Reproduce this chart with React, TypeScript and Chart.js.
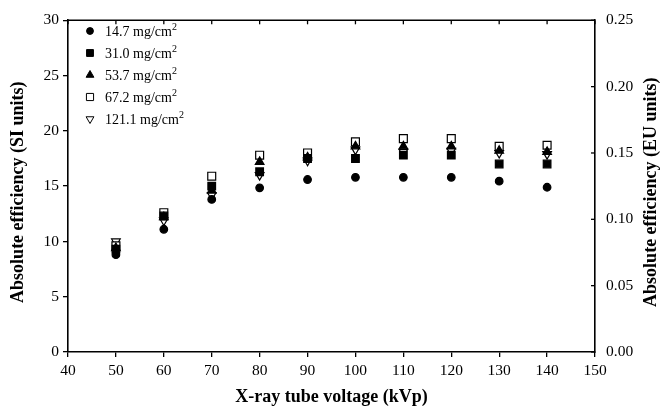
import React, { useEffect, useRef } from "react";
import { Chart, registerables } from "chart.js";
import { drawPoint } from "chart.js/helpers";

Chart.register(...registerables);

const voltages = [50, 60, 70, 80, 90, 100, 110, 120, 130, 140];
const eff14_7 = [8.8, 11.1, 13.8, 14.85, 15.6, 15.8, 15.8, 15.8, 15.45, 14.9];
const eff31_0 = [9.3, 12.3, 15.0, 16.3, 17.5, 17.5, 17.8, 17.8, 17.0, 17.0];
const eff53_7 = [9.4, 12.2, 14.6, 17.2, 17.6, 18.6, 18.6, 18.6, 18.2, 18.1];
const eff67_2 = [9.6, 12.6, 15.9, 17.8, 18.0, 19.0, 19.3, 19.3, 18.6, 18.7];
const eff121_1 = [10.0, 11.9, 14.2, 16.0, 17.3, 18.3, 18.1, 18.2, 18.0, 17.9];
const seriesLabels = ["14.7 mg/cm", "31.0 mg/cm", "53.7 mg/cm", "67.2 mg/cm", "121.1 mg/cm"];
const labelSup = "2";

const SERIF = "'Liberation Serif', 'Times New Roman', serif";

const styles = [
  { pointStyle: "circle", radius: 3.8, rotation: 0, fill: "#000" },
  { pointStyle: "rect", radius: 5.4, rotation: 0, fill: "#000" },
  { pointStyle: "triangle", radius: 5.0, rotation: 0, fill: "#000" },
  { pointStyle: "rect", radius: 5.6, rotation: 0, fill: "#fff" },
  { pointStyle: "triangle", radius: 5.0, rotation: 180, fill: "#fff" },
];

const decorPlugin = {
  id: "decor",
  afterDraw(chart: any) {
    const ctx = chart.ctx;
    const area = chart.chartArea;
    const xs = chart.scales.x;
    const y2 = chart.scales.y2;
    ctx.save();
    ctx.strokeStyle = "#000";
    ctx.lineWidth = 1.6;
    ctx.beginPath();
    ctx.moveTo(area.left, area.top);
    ctx.lineTo(area.right, area.top);
    ctx.stroke();
    ctx.lineWidth = 1.3;
    xs.ticks.forEach((t: any) => {
      const px = xs.getPixelForValue(t.value);
      ctx.beginPath();
      ctx.moveTo(px, area.top);
      ctx.lineTo(px, area.top + 4);
      ctx.stroke();
    });
    y2.ticks.forEach((t: any) => {
      const py = y2.getPixelForValue(t.value);
      ctx.beginPath();
      ctx.moveTo(area.right, py);
      ctx.lineTo(area.right - 4, py);
      ctx.stroke();
    });

    ctx.fillStyle = "#000";
    ctx.font = "bold 18px " + SERIF;
    ctx.textAlign = "center";
    ctx.textBaseline = "middle";
    ctx.fillText("X-ray tube voltage (kVp)", (area.left + area.right) / 2, 397);
    const midY = (area.top + area.bottom) / 2 + 6;
    ctx.save();
    ctx.translate(18, midY);
    ctx.rotate(-Math.PI / 2);
    ctx.fillText("Absolute efficiency (SI units)", 0, 0);
    ctx.restore();
    ctx.save();
    ctx.translate(651, midY);
    ctx.rotate(-Math.PI / 2);
    ctx.fillText("Absolute efficiency (EU units)", 0, 0);
    ctx.restore();

    const lx = 90;
    const tx = 105;
    const y0 = 31;
    const dy = 22;
    seriesLabels.forEach((lab, i) => {
      const st = styles[i];
      const yy = y0 + i * dy;
      ctx.fillStyle = st.fill;
      ctx.strokeStyle = "#000";
      ctx.lineWidth = 1;
      drawPoint(ctx, { pointStyle: st.pointStyle, radius: st.radius * 0.9, rotation: st.rotation, borderWidth: 1 } as any, lx, yy);
      ctx.fillStyle = "#000";
      ctx.textAlign = "left";
      ctx.textBaseline = "middle";
      ctx.font = "14px " + SERIF;
      ctx.fillText(lab, tx, yy + 1);
      const w = ctx.measureText(lab).width;
      ctx.font = "10px " + SERIF;
      ctx.fillText(labelSup, tx + w, yy - 4);
    });
    ctx.restore();
  },
};

export default function App() {
  const ref = useRef<HTMLCanvasElement | null>(null);
  useEffect(() => {
    document.body.style.margin = "0";
    const canvas = ref.current;
    if (!canvas) return;
    const series = [eff14_7, eff31_0, eff53_7, eff67_2, eff121_1];
    const datasets = series.map((vals, i) => ({
      label: seriesLabels[i] + "²",
      data: voltages.map((v, j) => ({ x: v, y: vals[j] })),
      pointStyle: styles[i].pointStyle as any,
      pointRadius: styles[i].radius,
      pointRotation: styles[i].rotation,
      backgroundColor: styles[i].fill,
      borderColor: "#000",
      borderWidth: 1.2,
      showLine: false,
      yAxisID: "y",
    }));
    const tickFont = { family: SERIF, size: 15.5 };
    const chart = new Chart(canvas, {
      type: "scatter",
      data: { datasets },
      plugins: [decorPlugin],
      options: {
        animation: false,
        responsive: false,
        layout: { padding: { top: 15, left: 0, right: 0, bottom: 0 } },
        plugins: { legend: { display: false }, tooltip: { enabled: false } },
        scales: {
          x: {
            type: "linear",
            min: 40,
            max: 150,
            ticks: { stepSize: 10, color: "#000", font: tickFont, padding: 5, maxRotation: 0 },
            grid: { drawOnChartArea: false, drawTicks: true, tickLength: 5, color: "#000", lineWidth: 1.3 },
            border: { display: true, color: "#000", width: 1.6 },
            afterFit: (s: any) => { s.height = 55; },
          },
          y: {
            type: "linear",
            position: "left",
            min: 0,
            max: 30,
            ticks: { stepSize: 5, color: "#000", font: tickFont, padding: 4 },
            grid: { drawOnChartArea: false, drawTicks: true, tickLength: 5, color: "#000", lineWidth: 1.3 },
            border: { display: true, color: "#000", width: 1.6 },
            afterFit: (s: any) => { s.width = 68; },
          },
          y2: {
            type: "linear",
            position: "right",
            min: 0,
            max: 0.25,
            ticks: {
              stepSize: 0.05,
              color: "#000",
              font: tickFont,
              padding: 11,
              callback: (v: any) => Number(v).toFixed(2),
            },
            grid: { drawOnChartArea: false, drawTicks: false, color: "#000" },
            border: { display: true, color: "#000", width: 1.6 },
            afterFit: (s: any) => { s.width = 70; },
          },
        },
      },
    });
    return () => chart.destroy();
  }, []);
  return <canvas ref={ref} width={665} height={407} style={{ display: "block" }} />;
}
